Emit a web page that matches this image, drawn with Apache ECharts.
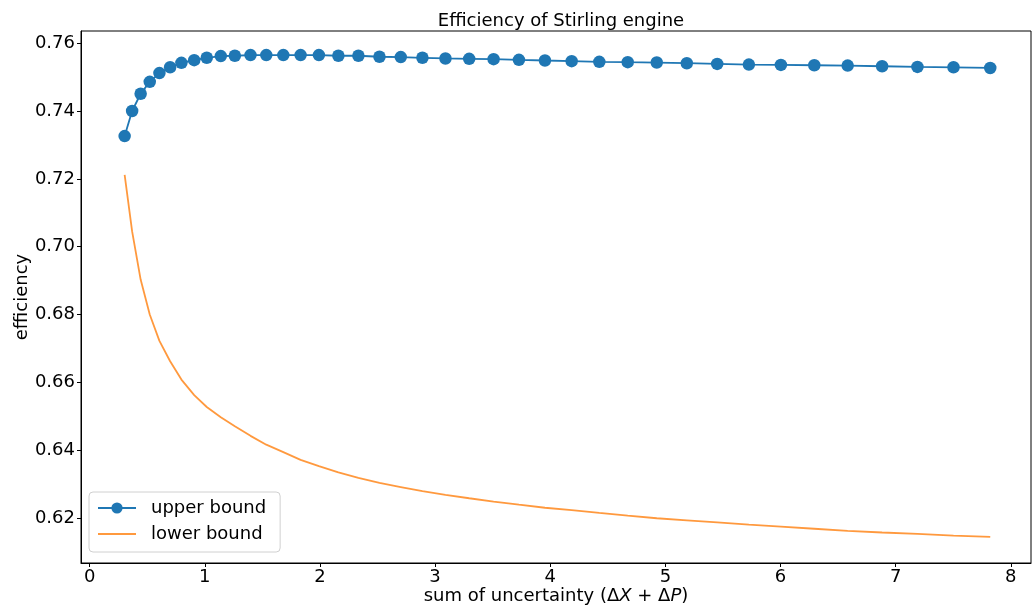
<!DOCTYPE html>
<html>
<head>
<meta charset="utf-8">
<script src="https://cdn.jsdelivr.net/npm/echarts@6/dist/echarts.min.js"></script>
<style>
html,body{margin:0;padding:0;background:#fff;}
#chart{width:1036px;height:605px;}
</style>
</head>
<body>
<div id="chart"></div>
<script>
const xValues = [0.304,0.369,0.443,0.522,0.606,0.699,0.797,0.908,1.017,1.139,1.261,1.397,1.534,1.682,1.832,1.991,2.160,2.334,2.517,2.702,2.890,3.090,3.296,3.508,3.728,3.954,4.186,4.426,4.673,4.925,5.186,5.450,5.725,6.003,6.293,6.583,6.882,7.189,7.502,7.821];
const upperBound = [0.7326,0.7400,0.7451,0.7486,0.7512,0.7529,0.7542,0.7550,0.7557,0.7562,0.7563,0.7565,0.7565,0.7565,0.7565,0.7565,0.7563,0.7563,0.7560,0.7559,0.7557,0.7555,0.7554,0.7553,0.7551,0.7549,0.7547,0.7545,0.7544,0.7543,0.7541,0.7539,0.7537,0.7536,0.7535,0.7534,0.7532,0.7530,0.7529,0.7527];
const lowerBound = [0.7212,0.7045,0.6903,0.6800,0.6722,0.6662,0.6608,0.6562,0.6527,0.6497,0.6470,0.6442,0.6416,0.6394,0.6371,0.6353,0.6334,0.6318,0.6303,0.6291,0.6279,0.6268,0.6258,0.6248,0.6239,0.6230,0.6223,0.6215,0.6207,0.6199,0.6193,0.6187,0.6180,0.6174,0.6168,0.6162,0.6157,0.6153,0.6148,0.6144];
const xTicks = [0,1,2,3,4,5,6,7,8];
const yTicks = [0.62,0.64,0.66,0.68,0.70,0.72,0.74,0.76];

const font = 'DejaVu Sans';
const chart = echarts.init(document.getElementById('chart'), null, {renderer:'canvas'});
chart.setOption({
  animation:false,
  backgroundColor:'#fff',
  textStyle:{fontFamily:font},
  title:{
    text:'Efficiency of Stirling engine',
    left:556, top:7, textAlign:'center',
    textStyle:{fontFamily:font,fontSize:18,fontWeight:'normal',color:'#000'}
  },
  grid:{left:81,right:5,top:31,bottom:42,outerBoundsMode:'none',containLabel:false,show:true,borderColor:'#000',borderWidth:1,backgroundColor:'transparent'},
  legend:{
    orient:'vertical', left:89, top:492,
    backgroundColor:'rgba(255,255,255,0.8)', borderColor:'#d0d0d0', borderWidth:1, borderRadius:4,
    padding:[7,14,9,8], itemWidth:38, itemHeight:14, itemGap:8,
    textStyle:{fontFamily:font,fontSize:18,color:'#000',lineHeight:18,padding:[0,0,0,10]},
    data:[{name:'upper bound'},{name:'lower bound',itemStyle:{opacity:0}}]
  },
  xAxis:{
    type:'value', min:-0.075, max:8.175,
    name:'{a|sum of uncertainty (Δ}{i|X}{a| + Δ}{i|P}{a|)}',
    nameLocation:'middle', nameGap:24, nameMoveOverlap:false,
    nameTextStyle:{rich:{a:{fontFamily:font,fontSize:18,color:'#000'},i:{fontFamily:font,fontSize:18,fontStyle:'italic',color:'#000'}}},
    axisLine:{show:true,onZero:false,lineStyle:{color:'#000',width:1}},
    axisTick:{show:true,length:4,lineStyle:{color:'#000'},customValues:xTicks},
    axisLabel:{fontFamily:font,fontSize:18,color:'#000',margin:5,customValues:xTicks,formatter:v=>String(v)},
    splitLine:{show:false}
  },
  yAxis:{
    type:'value', min:0.6067, max:0.7636,
    name:'efficiency', nameLocation:'middle', nameGap:50, nameRotate:90, nameMoveOverlap:false,
    nameTextStyle:{fontFamily:font,fontSize:18,color:'#000'},
    axisLine:{show:true,onZero:false,lineStyle:{color:'#000',width:1}},
    axisTick:{show:true,length:4,lineStyle:{color:'#000'},customValues:yTicks},
    axisLabel:{fontFamily:font,fontSize:18,color:'#000',margin:6,customValues:yTicks,formatter:v=>v.toFixed(2)},
    splitLine:{show:false}
  },
  series:[
    {
      name:'upper bound', type:'line',
      data:xValues.map((x,i)=>[x,upperBound[i]]),
      symbol:'circle', symbolSize:12.5, showSymbol:true,
      itemStyle:{color:'#1f77b4'}, lineStyle:{color:'#1f77b4',width:1.8}, z:3
    },
    {
      name:'lower bound', type:'line',
      data:xValues.map((x,i)=>[x,lowerBound[i]]),
      symbol:'none', smooth:false,
      itemStyle:{color:'#ff7f0e'}, lineStyle:{color:'#ff7f0e',width:1.8,opacity:0.8}, z:2
    }
  ]
});
</script>
</body>
</html>
